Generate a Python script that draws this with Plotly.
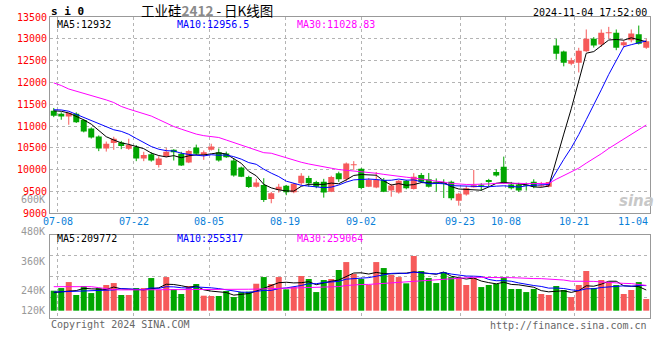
import plotly.graph_objects as go

# ---------------- data ----------------
dates = ["07-05",
         "07-08", "07-09", "07-10", "07-11", "07-12",
         "07-15", "07-16", "07-17", "07-18", "07-19",
         "07-22", "07-23", "07-24", "07-25", "07-26",
         "07-29", "07-30", "07-31", "08-01", "08-02",
         "08-05", "08-06", "08-07", "08-08", "08-09",
         "08-12", "08-13", "08-14", "08-15", "08-16",
         "08-19", "08-20", "08-21", "08-22", "08-23",
         "08-26", "08-27", "08-28", "08-29", "08-30",
         "09-02", "09-03", "09-04", "09-05", "09-06",
         "09-09", "09-10", "09-11", "09-12", "09-13",
         "09-18", "09-19", "09-20",
         "09-23", "09-24", "09-25", "09-26", "09-27",
         "09-30",
         "10-08", "10-09", "10-10", "10-11",
         "10-14", "10-15", "10-16", "10-17", "10-18",
         "10-21", "10-22", "10-23", "10-24", "10-25",
         "10-28", "10-29", "10-30", "10-31", "11-01",
         "11-04"]

opens = [11350, 11285, 11220, 11285, 11140, 10945, 10760, 10485, 10610, 10625,
         10480, 10525, 10255, 10355, 10105, 10300, 10455, 10365, 10165, 10510,
         10345, 10460, 10400, 10370, 10210, 10050, 9830, 9610, 9650, 9330,
         9535, 9630, 9485, 9690, 9810, 9715, 9725, 9495, 9920, 9780,
         10100, 10020, 9610, 9590, 9765, 9520, 9475, 9745, 9560, 9880,
         9780, 9720, 9700, 9725, 9290, 9430, 9600, 9650, 9765, 9945,
         10070, 9660, 9660, 9650, 9725, 9620, 9610, 12850, 12710, 12430,
         12450, 12715, 13005, 12870, 13130, 13140, 12855, 12970, 13105, 12795]
highs = [11415, 11315, 11305, 11315, 11160, 10970, 10785, 10645, 10755, 10660,
         10710, 10565, 10410, 10400, 10310, 10495, 10470, 10410, 10455, 10575,
         10440, 10595, 10485, 10415, 10265, 10070, 9860, 9795, 9805, 9490,
         9675, 9650, 9695, 9920, 9860, 9745, 9790, 9860, 9955, 10165,
         10195, 10035, 9810, 9945, 9810, 9675, 9765, 9765, 9920, 9925,
         9925, 9800, 9780, 9750, 9470, 9630, 9995, 9690, 9790, 10010,
         10300, 9720, 9700, 9705, 9780, 9720, 9720, 13000, 12730, 12565,
         12795, 13215, 13040, 13215, 13275, 13215, 12960, 13215, 13305, 13000]
lows = [11205, 11145, 11030, 11070, 10855, 10715, 10425, 10415, 10455, 10470,
        10455, 10195, 10195, 10185, 10050, 10285, 10210, 10085, 10150, 10340,
        10225, 10440, 10185, 10270, 9840, 9830, 9580, 9590, 9260, 9230,
        9475, 9415, 9460, 9650, 9610, 9575, 9360, 9485, 9720, 9725,
        9995, 9550, 9600, 9575, 9485, 9380, 9450, 9550, 9545, 9695,
        9590, 9495, 9350, 9300, 9175, 9405, 9590, 9515, 9610, 9840,
        9675, 9545, 9490, 9520, 9575, 9595, 9595, 12525, 12370, 12395,
        12230, 12700, 12800, 12815, 13005, 12740, 12800, 12920, 12870, 12770]
closes = [11235, 11220, 11300, 11085, 10875, 10740, 10485, 10595, 10710, 10545,
          10565, 10255, 10335, 10210, 10255, 10410, 10400, 10095, 10430, 10365,
          10400, 10530, 10210, 10285, 9865, 9840, 9605, 9705, 9305, 9460,
          9610, 9485, 9680, 9860, 9690, 9610, 9475, 9830, 9780, 10140,
          10115, 9580, 9765, 9765, 9495, 9635, 9745, 9575, 9840, 9725,
          9610, 9700, 9680, 9345, 9450, 9575, 9645, 9630, 9720, 9865,
          9690, 9575, 9520, 9630, 9610, 9645, 9715, 12660, 12450, 12510,
          12730, 13005, 12845, 13140, 13145, 12795, 12920, 13120, 12890, 12945]
volumes = [204000, 231000, 292000, 160000, 252000, 180000, 231000, 262000, 282000, 160000,
           160000, 231000, 231000, 333000, 211000, 343000, 218000, 170000, 252000, 272000,
           153000, 150000, 150000, 201000, 139000, 190000, 194000, 275000, 343000, 272000,
           343000, 218000, 241000, 354000, 323000, 190000, 313000, 323000, 415000, 496000,
           374000, 323000, 262000, 496000, 435000, 364000, 343000, 279000, 558000, 405000,
           333000, 282000, 394000, 343000, 333000, 262000, 333000, 241000, 262000, 272000,
           343000, 221000, 221000, 190000, 221000, 170000, 160000, 252000, 211000, 139000,
           262000, 405000, 231000, 313000, 292000, 262000, 170000, 211000, 292000, 119000]

# moving-average values before enough history exists in the window
ma5_head = [11350, 11340, 11300, 11220]
ma10_head = [11375, 11370, 11340, 11270, 11200, 11130, 11060, 10990, 10915]
ma30_head = [11990, 11930, 11850, 11800, 11760, 11700, 11650, 11600, 11540, 11450,
             11390, 11340, 11280, 11230, 11150, 11070, 10990, 10930, 10870, 10816,
             10780, 10760, 10738, 10680, 10620, 10560, 10500, 10440, 10390]
vol_ma5_head = [184000, 195000, 200000, 205000]
vol_ma10_head = [190000, 192000, 195000, 198000, 202000, 205000, 208000, 210000, 212000]
vol_ma30_head = [245000, 245000, 245000, 245000, 245000, 245000, 235000, 225000, 214000, 212000,
                 212000, 212000, 212000, 212000, 212000, 212000, 212000, 212000, 212000, 212000,
                 212000, 213000, 214000, 215000, 216000, 218000, 219000, 220000, 222000]

grid_dates = ["07-08", "07-22", "08-05", "08-19", "09-02", "09-23", "10-08", "10-21", "11-04"]
price_ticks = [9000, 9500, 10000, 10500, 11000, 11500, 12000, 12500, 13000, 13500]
vol_labels = ["600K", "480K", "360K", "240K", "120K"]

title_name = "工业硅"
title_code = "2412"
title_rest = " - 日K线图"
symbol_text = "s i 0"
timestamp = "2024-11-04 17:52:00"
main_ma_labels = ["MA5:12932", "MA10:12956.5", "MA30:11028.83"]
vol_ma_labels = ["MA5:209772", "MA10:255317", "MA30:259064"]
copyright_text = "Copyright 2024 SINA.COM"
url_text = "http://finance.sina.com.cn"

# ---------------- styles ----------------
RED = "#f65a5a"
GREEN = "#00a600"
MA_COLORS = ["#000000", "#0000ff", "#ff00ff"]
GRID = "#b4b4b4"
BORDER = "#999999"
MONO = "DejaVu Sans Mono"
W, H = 660, 360
ML, MR, MT, MB = 50, 10, 17, 42


def ma_series(values, n, head):
    out = list(head)
    for i in range(len(head), len(values)):
        out.append(sum(values[i - n + 1:i + 1]) / n)
    return out


def px_x(X):
    return (X - ML) / (W - ML - MR)


def px_y(Y):
    return (H - MB - Y) / (H - MT - MB)


n = len(dates)
idx = list(range(n))
up = [c >= o for o, c in zip(opens, closes)]
colors = [RED if u else GREEN for u in up]
# sina places its date grid lines with a (n-1) divisor while candles use n slots
grid_x = [dates.index(d) * n / (n - 1) - 0.5 for d in grid_dates]

fig = go.Figure()

# wicks
for flag, col in ((True, RED), (False, GREEN)):
    xs, ys = [], []
    for i in idx:
        if up[i] == flag:
            xs += [i, i, None]
            ys += [lows[i], highs[i], None]
    fig.add_trace(go.Scatter(x=xs, y=ys, mode="lines", line=dict(color=col, width=1),
                             hoverinfo="skip", showlegend=False, xaxis="x", yaxis="y"))

# bodies
body_base = [min(o, c) for o, c in zip(opens, closes)]
body_h = [max(abs(c - o), 23) for o, c in zip(opens, closes)]
fig.add_trace(go.Bar(x=idx, y=body_h, base=body_base, width=0.8,
                     marker=dict(color=colors, line=dict(width=0)),
                     showlegend=False, xaxis="x", yaxis="y"))

# price MAs
for (nwin, head), col in zip(((5, ma5_head), (10, ma10_head), (30, ma30_head)), MA_COLORS):
    fig.add_trace(go.Scatter(x=idx, y=ma_series(closes, nwin, head), mode="lines",
                             line=dict(color=col, width=1), hoverinfo="skip",
                             showlegend=False, xaxis="x", yaxis="y"))

# volume bars
fig.add_trace(go.Bar(x=idx, y=volumes, width=0.8,
                     marker=dict(color=colors, line=dict(width=0)),
                     showlegend=False, xaxis="x2", yaxis="y2"))
for (nwin, head), col in zip(((5, vol_ma5_head), (10, vol_ma10_head), (30, vol_ma30_head)), MA_COLORS):
    fig.add_trace(go.Scatter(x=idx, y=ma_series(volumes, nwin, head), mode="lines",
                             line=dict(color=col, width=1), hoverinfo="skip",
                             showlegend=False, xaxis="x2", yaxis="y2"))

vol_range = [-74500, 775000]
vol_grid = [vol_range[0] + (vol_range[1] - vol_range[0]) * k / 4 for k in (1, 2, 3)]

axis_common = dict(showgrid=True, gridcolor=GRID, griddash="dot", gridwidth=1,
                   showline=True, mirror=True, linecolor=BORDER, linewidth=1,
                   zeroline=False, ticks="")

main_bottom = px_y(213.3)
vol_top = px_y(234.7)

fig.update_layout(
    width=W, height=H,
    margin=dict(l=ML, r=MR, t=MT, b=MB, pad=0),
    paper_bgcolor="white", plot_bgcolor="white",
    barmode="overlay", showlegend=False, template="none",
    xaxis=dict(domain=[0, 1], range=[-0.5, n - 0.5], anchor="y", tickvals=grid_x,
               showticklabels=False, **axis_common),
    xaxis2=dict(domain=[0, 1], range=[-0.5, n - 0.5], anchor="y2", matches="x",
                tickvals=grid_x, showticklabels=False, **axis_common),
    yaxis=dict(domain=[main_bottom, 1], range=[9000, 13501], tickvals=price_ticks,
               ticktext=[str(v) for v in price_ticks], anchor="x",
               tickfont=dict(family=MONO, size=10, color="#ff0000"), **axis_common),
    yaxis2=dict(domain=[0, vol_top], range=vol_range, tickvals=vol_grid,
                showticklabels=False, anchor="x2", **axis_common),
)

ann = []


def add_text(text, X, Y, color="#000000", size=10, anchor="left", family=MONO, **kw):
    ann.append(dict(text=text, x=px_x(X), y=px_y(Y), xref="paper", yref="paper",
                    xanchor=anchor, yanchor="middle", showarrow=False,
                    font=dict(family=family, size=size, color=color), **kw))


# header
add_text("<b>" + symbol_text + "</b>", 49, 11, size=11)
add_text(title_name + "<span style='color:#8a8a8a'><b>" + title_code + "</b></span>" + title_rest,
         139, 10, size=13.5, family="Noto Sans CJK SC")
add_text(timestamp, 649, 12, anchor="right")

# MA labels
for txt, col, X in zip(main_ma_labels, MA_COLORS, (55, 175, 295)):
    add_text(txt, X, 24, color=col)
for txt, col, X in zip(vol_ma_labels, MA_COLORS, (55, 175, 295)):
    add_text(txt, X, 238, color=col)

# date labels (between the panels)
for d, gx in zip(grid_dates, grid_x):
    last = d == grid_dates[-1]
    ann.append(dict(text=d, x=gx, y=px_y(221), xref="x", yref="paper",
                    xanchor="right" if last else "center", yanchor="middle", showarrow=False,
                    font=dict(family=MONO, size=10, color="#0a80d8")))

# volume axis labels, as sina places them
for txt, Y in zip(vol_labels, (199.5, 231, 261, 290, 310)):
    add_text(txt, 46.5, Y, color="#999999", anchor="right")

# footer
add_text(copyright_text, 49, 324, color="#666666")
add_text(url_text, 649, 325, color="#666666", anchor="right")

# watermark
add_text("<b><i>sina</i></b>", 636, 201, color="#c8c8c8", size=15, anchor="center",
         family="DejaVu Sans")

fig.update_layout(annotations=ann)
fig.write_html("out.html",
               config={"displayModeBar": False, "staticPlot": True},
               post_script="document.body.style.margin='0';document.body.style.padding='0';"
                           "document.body.style.overflow='hidden';")
